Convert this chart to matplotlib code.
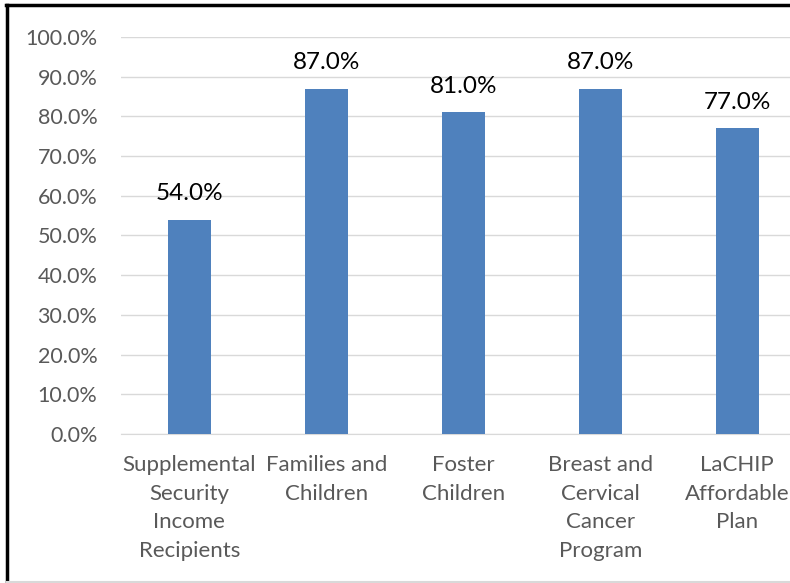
import matplotlib.pyplot as plt
from matplotlib.lines import Line2D

plt.rcParams['font.family'] = ['Lato', 'DejaVu Sans']

programs = [
    "Supplemental\nSecurity\nIncome\nRecipients",
    "Families and\nChildren",
    "Foster\nChildren",
    "Breast and\nCervical\nCancer\nProgram",
    "LaCHIP\nAffordable\nPlan",
]
rates = [54.0, 87.0, 81.0, 87.0, 77.0]
yticks = [0, 10, 20, 30, 40, 50, 60, 70, 80, 90, 100]

fig = plt.figure(figsize=(7.9, 5.83), dpi=100)
ax = fig.add_axes([0.153, 0.2556, 0.867, 0.681])

x = range(len(rates))
ax.bar(x, rates, width=0.31, color='#4f81bd', zorder=3)
for i, v in zip(x, rates):
    ax.text(i, v + 6.5, f"{v:.1f}%", ha='center', va='center',
            fontsize=17.5, color='#000000')

ax.set_xlim(-0.5, len(rates) - 0.5)
ax.set_ylim(0, 100)
ax.set_yticks(yticks)
ax.set_yticklabels([f"{t:.1f}%" for t in yticks])
ax.set_xticks(list(x))
ax.set_xticklabels(programs, linespacing=1.55, va='top')
ax.tick_params(axis='y', length=0, labelsize=15.5, colors='#595959', pad=17)
ax.tick_params(axis='x', length=0, labelsize=16, colors='#595959', pad=15)
ax.grid(axis='y', color='#d9d9d9', linewidth=1, zorder=0)
for side in ['top', 'right', 'left']:
    ax.spines[side].set_visible(False)
ax.spines['bottom'].set_color('#d9d9d9')

# frame around the chart area
fig.add_artist(Line2D([0.009, 0.009], [0.0, 0.991], color='black', lw=2.5,
                      transform=fig.transFigure))
fig.add_artist(Line2D([0.008, 1.0], [0.991, 0.991], color='black', lw=2.5,
                      transform=fig.transFigure))
fig.add_artist(Line2D([0.009, 1.0], [0.002, 0.002], color='#d9d9d9', lw=1.5,
                      transform=fig.transFigure))

fig.savefig('out.png', dpi=100)
